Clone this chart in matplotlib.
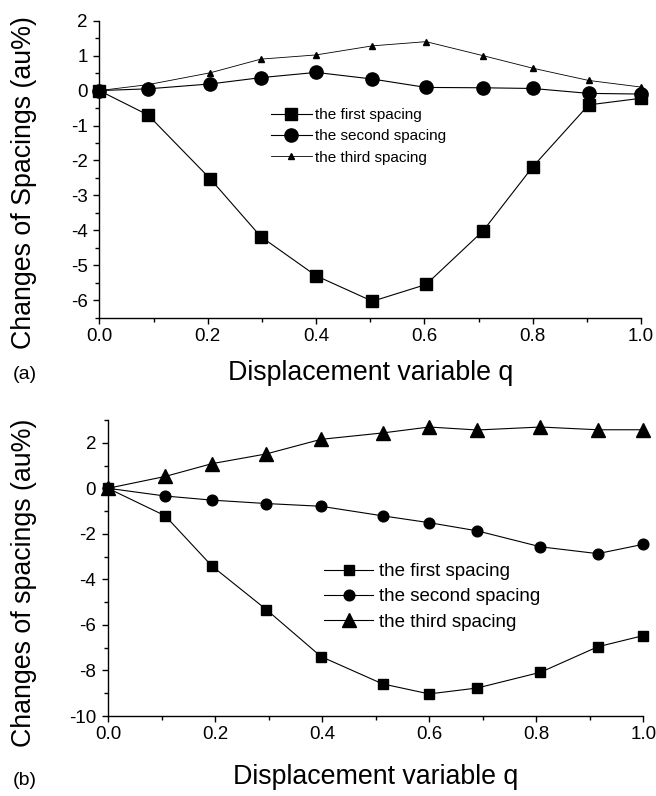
import matplotlib
matplotlib.use("Agg")
import matplotlib.pyplot as plt
from matplotlib.ticker import MultipleLocator

plt.rcParams['font.family'] = ['Liberation Sans', 'DejaVu Sans']
plt.rcParams['axes.unicode_minus'] = False

# Panel (a)
q_a = [0.0, 0.09, 0.205, 0.298, 0.40, 0.504, 0.603, 0.708, 0.80, 0.903, 1.0]
first_a = [0.0, -0.70, -2.53, -4.18, -5.30, -6.03, -5.55, -4.02, -2.18, -0.41, -0.22]
second_a = [0.0, 0.05, 0.19, 0.37, 0.52, 0.33, 0.09, 0.08, 0.06, -0.08, -0.10]
third_a = [0.0, 0.17, 0.51, 0.90, 1.02, 1.28, 1.40, 1.00, 0.64, 0.29, 0.10]

# Panel (b)
q_b = [0.0, 0.107, 0.194, 0.296, 0.398, 0.513, 0.600, 0.690, 0.808, 0.915, 1.0]
first_b = [0.0, -1.21, -3.41, -5.33, -7.39, -8.59, -9.03, -8.77, -8.08, -6.96, -6.47]
second_b = [0.0, -0.34, -0.52, -0.67, -0.79, -1.21, -1.51, -1.87, -2.57, -2.87, -2.46]
third_b = [0.0, 0.52, 1.08, 1.51, 2.15, 2.43, 2.69, 2.56, 2.69, 2.57, 2.57]

labels = ["the first spacing", "the second spacing", "the third spacing"]

fig = plt.figure(figsize=(6.56, 7.96), dpi=100)

ax1 = fig.add_axes([0.1514, 0.6009, 0.8260, 0.3731])
ax2 = fig.add_axes([0.1646, 0.1005, 0.8160, 0.3719])

lw = 0.8
ax1.plot(q_a, first_a, color='black', lw=lw, marker='s', ms=8.5, label=labels[0], clip_on=False, zorder=3)
ax1.plot(q_a, second_a, color='black', lw=lw, marker='o', ms=9.5, label=labels[1], clip_on=False, zorder=3)
ax1.plot(q_a, third_a, color='black', lw=0.6, marker='^', ms=5, label=labels[2], clip_on=False, zorder=3)

ax2.plot(q_b, first_b, color='black', lw=lw, marker='s', ms=7.2, label=labels[0], clip_on=False, zorder=3)
ax2.plot(q_b, second_b, color='black', lw=lw, marker='o', ms=7.7, label=labels[1], clip_on=False, zorder=3)
ax2.plot(q_b, third_b, color='black', lw=lw, marker='^', ms=10.5, label=labels[2], clip_on=False, zorder=3)

ax1.set_xlim(0, 1.0)
ax1.set_ylim(-6.5, 2)
ax2.set_xlim(0, 1.0)
ax2.set_ylim(-10, 3)

for ax in (ax1, ax2):
    ax.spines['top'].set_visible(False)
    ax.spines['right'].set_visible(False)
    ax.spines['left'].set_linewidth(1.0)
    ax.spines['bottom'].set_linewidth(1.0)
    ax.xaxis.set_major_locator(MultipleLocator(0.2))
    ax.xaxis.set_minor_locator(MultipleLocator(0.1))
    ax.tick_params(which='major', direction='out', length=4, width=1.0, labelsize=13.5)
    ax.tick_params(axis='x', which='major', pad=3.5)
    ax.tick_params(axis='y', which='major', pad=4.5)
    ax.tick_params(which='minor', direction='out', length=2.8, width=1.0)
    ax.set_xticks([0.0, 0.2, 0.4, 0.6, 0.8, 1.0])
    ax.set_xticklabels(["0.0", "0.2", "0.4", "0.6", "0.8", "1.0"])

ax1.yaxis.set_major_locator(MultipleLocator(1))
ax1.yaxis.set_minor_locator(MultipleLocator(0.5))
ax2.yaxis.set_major_locator(MultipleLocator(2))
ax2.yaxis.set_minor_locator(MultipleLocator(1))

ax1.set_ylabel("Changes of Spacings (au%)", fontsize=19.3, va='center')
ax1.set_xlabel("Displacement variable q", fontsize=19.3, va='center')
ax2.set_ylabel("Changes of spacings (au%)", fontsize=19.3, va='center')
ax2.set_xlabel("Displacement variable q", fontsize=19.3, va='center')
ax1.yaxis.set_label_coords(-0.139, 0.455)
ax2.yaxis.set_label_coords(-0.157, 0.45)
ax1.xaxis.set_label_coords(0.5, -0.186)
ax2.xaxis.set_label_coords(0.5, -0.206)

ax1.legend(loc='upper left', bbox_to_anchor=(0.317, 0.706), frameon=False, fontsize=11,
           handlelength=2.65, handletextpad=0.25, labelspacing=0.48, borderpad=0, borderaxespad=0)
ax2.legend(loc='upper left', bbox_to_anchor=(0.404, 0.517), frameon=False, fontsize=13.5,
           handlelength=2.6, handletextpad=0.3, labelspacing=0.44, borderpad=0, borderaxespad=0)

fig.text(0.02, 0.529, "(a)", fontsize=14, va='center', ha='left')
fig.text(0.02, 0.020, "(b)", fontsize=14, va='center', ha='left')

fig.savefig("out.png", dpi=100)
